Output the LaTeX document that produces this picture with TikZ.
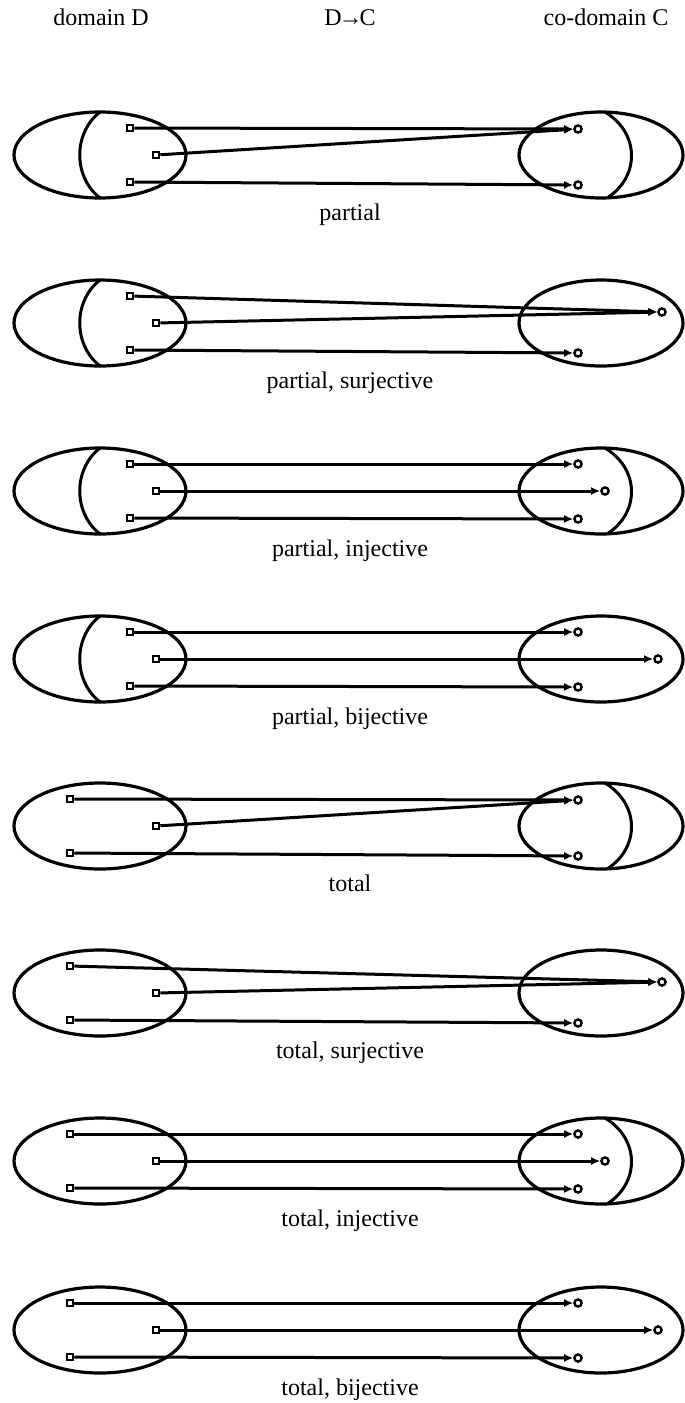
\documentclass[tikz,border=0pt]{standalone}
\usepackage{fontspec}
\setmainfont{Liberation Serif}
\usetikzlibrary{arrows.meta,shapes.geometric}
\tikzset{
  setD/.style={ellipse, draw, line width=1.6pt, inner sep=0pt, outer sep=0pt,
    minimum width=86pt, minimum height=43pt},
  setC/.style={ellipse, draw, line width=1.6pt, inner sep=0pt, outer sep=0pt,
    minimum width=82pt, minimum height=43pt},
  arcline/.style={line width=1.5pt},
  src/.style={rectangle, draw, line width=1.1pt, inner sep=0pt, minimum size=3.2pt},
  tgt/.style={circle, draw, line width=1.2pt, inner sep=0pt, minimum size=3.6pt},
  conn/.style={line width=1.5pt, -{Latex[length=4.5pt,width=4pt]}},
  lbl/.style={anchor=base, font=\fontsize{12pt}{14pt}\selectfont, inner sep=0pt}
}
% #1 prefix, #2 centre y, #3 total?, #4 surjective?, #5 injective?, #6 label
\newcommand{\fpanel}[6]{%
\begin{scope}[shift={(0,#2)}]
  \node[setD] (#1D) at (100,0) {};
  \node[setC] (#1C) at (601,0) {};
  \ifnum#3=1 \def\sqx{70}\else\def\sqx{130}%
    \draw[arcline] (100,-43) .. controls (73,-22) and (73,22) .. (100,43);\fi
  \node[src] (#1s1) at (\sqx,-27) {};
  \node[src] (#1s2) at (156,0) {};
  \node[src] (#1s3) at (\sqx,27) {};
  \ifnum#4=1
    \ifnum#5=1
      \node[tgt] (#1t1) at (578,-27) {};
      \node[tgt] (#1t2) at (658,0) {};
      \node[tgt] (#1t3) at (578,28) {};
    \else
      \node[tgt] (#1t1) at (662,-11) {};
      \node[tgt] (#1t3) at (578,30) {};
    \fi
  \else
    \draw[arcline] (605,-43) .. controls (640,-22) and (640,22) .. (607,43);
    \ifnum#5=1
      \node[tgt] (#1t1) at (578,-27) {};
      \node[tgt] (#1t2) at (605,0) {};
      \node[tgt] (#1t3) at (578,28) {};
    \else
      \node[tgt] (#1t1) at (578,-26) {};
      \node[tgt] (#1t3) at (578,30) {};
    \fi
  \fi
  \draw[conn] (#1s1) -- (#1t1);
  \ifnum#5=1 \draw[conn] (#1s2) -- (#1t2);\else\draw[conn] (#1s2) -- (#1t1);\fi
  \draw[conn] (#1s3) -- (#1t3);
  \node[lbl] (#1L) at (350,65) {#6};
\end{scope}}
\begin{document}
\begin{tikzpicture}[x=0.5pt,y=-0.5pt]
  \useasboundingbox (0,0) rectangle (685,1403);
  \node[lbl] (hD) at (101,25) {domain D};
  \node[lbl] (hM) at (350,25) {D\kern-1.5pt→\kern-1.5pt C};
  \node[lbl] (hC) at (606,25) {co-domain C};
  \fpanel{pa}{155}{0}{0}{0}{partial}
  \fpanel{pb}{323}{0}{1}{0}{partial, surjective}
  \fpanel{pc}{491}{0}{0}{1}{partial, injective}
  \fpanel{pd}{659}{0}{1}{1}{partial, bijective}
  \fpanel{ta}{826}{1}{0}{0}{total}
  \fpanel{tb}{993}{1}{1}{0}{total, surjective}
  \fpanel{tc}{1161}{1}{0}{1}{total, injective}
  \fpanel{td}{1330}{1}{1}{1}{total, bijective}
\end{tikzpicture}
\end{document}
